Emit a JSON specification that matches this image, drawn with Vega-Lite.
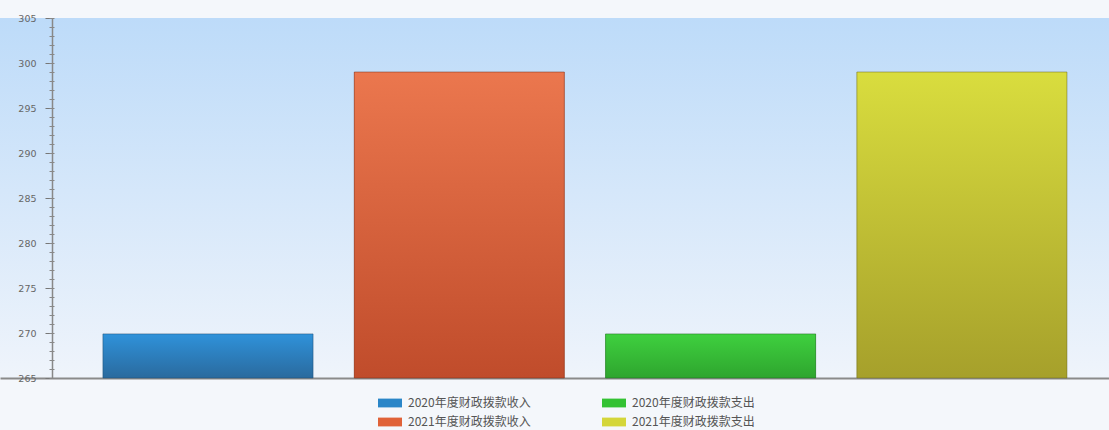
{
  "$schema": "https://vega.github.io/schema/vega-lite/v6.json",
  "autosize": {"type": "none"},
  "width": 1109,
  "height": 360,
  "padding": {"left": 0, "top": 18, "right": 0, "bottom": 52},
  "background": "#f4f7fb",
  "view": {
    "fill": {"gradient": "linear", "x1": 0, "y1": 0, "x2": 0, "y2": 1, "stops": [{"offset": 0, "color": "#bddbf9"}, {"offset": 1, "color": "#eff4fb"}]},
    "stroke": null
  },
  "data": {
    "values": [
      {"item": "2020年度财政拨款收入", "value": 269.9},
      {"item": "2021年度财政拨款收入", "value": 299.0},
      {"item": "2020年度财政拨款支出", "value": 269.9},
      {"item": "2021年度财政拨款支出", "value": 299.0}
    ]
  },
  "encoding": {
    "x": {
      "field": "item", "type": "nominal",
      "sort": ["2020年度财政拨款收入", "2021年度财政拨款收入", "2020年度财政拨款支出", "2021年度财政拨款支出"],
      "scale": {"paddingInner": 0.164, "paddingOuter": 0.2885, "align": 0.71},
      "axis": {"labels": false, "ticks": false, "title": null, "domainColor": "#8a8a8a", "domainWidth": 2}
    },
    "y": {
      "field": "value", "type": "quantitative",
      "scale": {"domain": [265, 305], "zero": false, "nice": false}
    },
    "y2": {"datum": 265}
  },
  "layer": [
    {
      "mark": {"type": "bar"},
      "encoding": {
        "y": {
          "field": "value", "type": "quantitative",
          "axis": {"values": [265, 270, 275, 280, 285, 290, 295, 300, 305], "orient": "left", "offset": -52, "title": null, "grid": false, "tickSize": 7, "tickColor": "#777", "domainColor": "#888", "domainWidth": 1.5, "labelFont": "DejaVu Sans", "labelFontSize": 9.5, "labelColor": "#666", "labelPadding": 9}
        },
        "color": {
          "field": "item", "type": "nominal",
          "scale": {
            "domain": ["2020年度财政拨款收入", "2020年度财政拨款支出", "2021年度财政拨款收入", "2021年度财政拨款支出"],
            "range": ["#2a86c8", "#33c233", "#e06238", "#d4d63a"]
          },
          "legend": {
            "title": null, "orient": "none", "legendX": 382, "legendY": 377, "direction": "horizontal", "columns": 2,
            "columnPadding": 71, "rowPadding": 5,
            "symbolType": "M-1.5,-0.55L1.5,-0.55L1.5,0.55L-1.5,0.55Z", "symbolSize": 256, "symbolStrokeWidth": 0,
            "labelFont": "Noto Sans CJK SC", "labelFontSize": 12, "labelColor": "#555", "labelOffset": 10
          }
        }
      }
    },
    {
      "transform": [{"filter": "datum.item === '2020年度财政拨款收入'"}],
      "mark": {"type": "bar", "stroke": "#1d4d73", "strokeOpacity": 0.5, "strokeWidth": 1,
        "fill": {"gradient": "linear", "x1": 0, "y1": 0, "x2": 0, "y2": 1, "stops": [{"offset": 0, "color": "#2f92da"}, {"offset": 1, "color": "#2a6a9e"}]}},
      "encoding": {
        "y": {
          "field": "value", "type": "quantitative",
          "axis": {"values": [265,266,267,268,269,270,271,272,273,274,275,276,277,278,279,280,281,282,283,284,285,286,287,288,289,290,291,292,293,294,295,296,297,298,299,300,301,302,303,304,305], "orient": "left", "offset": -54, "labels": false, "domain": false, "title": null, "grid": false, "tickSize": 5, "tickColor": "#888"}
        }
      }
    },
    {
      "transform": [{"filter": "datum.item === '2021年度财政拨款收入'"}],
      "mark": {"type": "bar", "stroke": "#7a2e17", "strokeOpacity": 0.5, "strokeWidth": 1,
        "fill": {"gradient": "linear", "x1": 0, "y1": 0, "x2": 0, "y2": 1, "stops": [{"offset": 0, "color": "#eb774e"}, {"offset": 1, "color": "#c04c2b"}]}},
      "encoding": {"y": {"field": "value", "type": "quantitative", "axis": null}}
    },
    {
      "transform": [{"filter": "datum.item === '2020年度财政拨款支出'"}],
      "mark": {"type": "bar", "stroke": "#1d6a1d", "strokeOpacity": 0.5, "strokeWidth": 1,
        "fill": {"gradient": "linear", "x1": 0, "y1": 0, "x2": 0, "y2": 1, "stops": [{"offset": 0, "color": "#3fd03f"}, {"offset": 1, "color": "#2ea52e"}]}},
      "encoding": {"y": {"field": "value", "type": "quantitative", "axis": null}}
    },
    {
      "transform": [{"filter": "datum.item === '2021年度财政拨款支出'"}],
      "mark": {"type": "bar", "stroke": "#6b6820", "strokeOpacity": 0.5, "strokeWidth": 1,
        "fill": {"gradient": "linear", "x1": 0, "y1": 0, "x2": 0, "y2": 1, "stops": [{"offset": 0, "color": "#d9dd3e"}, {"offset": 1, "color": "#a6a02b"}]}},
      "encoding": {"y": {"field": "value", "type": "quantitative", "axis": null}}
    }
  ],
  "resolve": {"axis": {"y": "independent"}}
}
